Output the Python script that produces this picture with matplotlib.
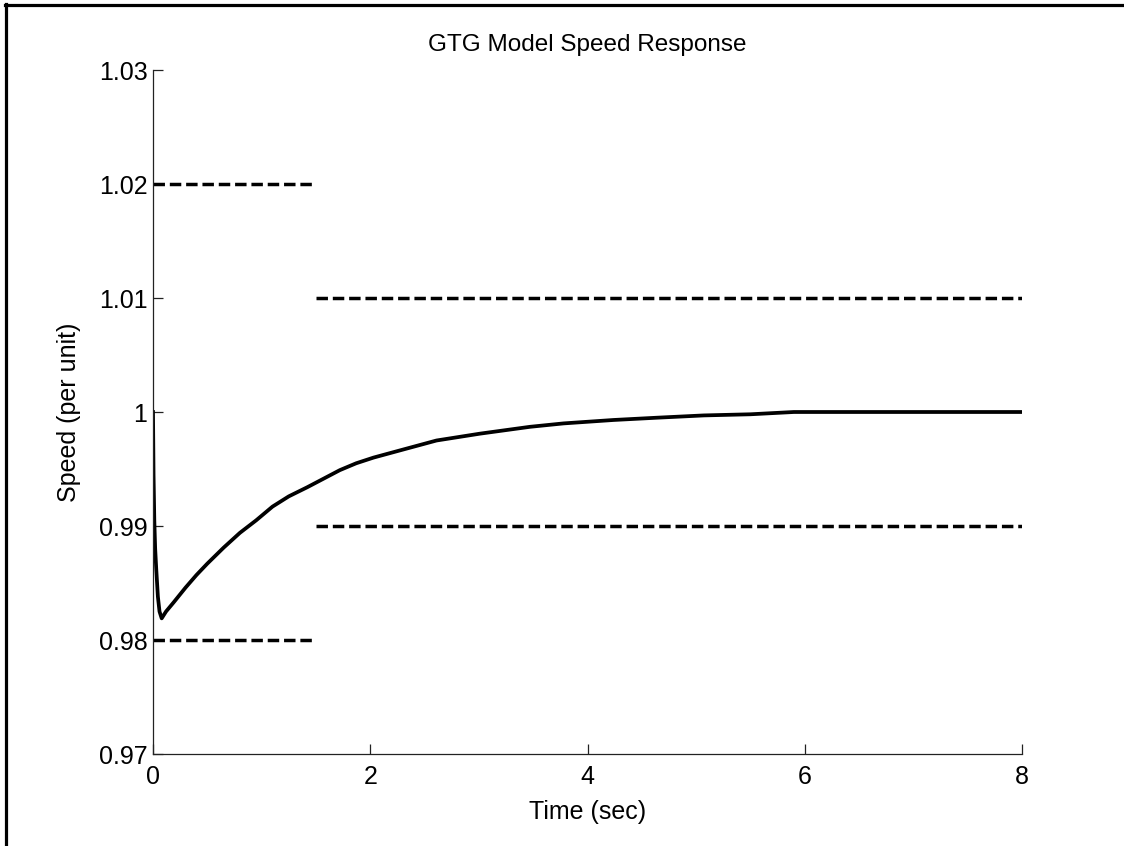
import matplotlib
matplotlib.use("Agg")
import matplotlib.pyplot as plt
from matplotlib.lines import Line2D

plt.rcParams["font.family"] = ["Liberation Sans", "DejaVu Sans"]
plt.rcParams["font.size"] = 18

# speed response (per unit) sampled along time (sec)
t = [0.0, 0.005, 0.012, 0.02, 0.03, 0.045, 0.06, 0.08, 0.12, 0.19, 0.3, 0.4,
     0.5, 0.65, 0.8, 0.95, 1.1, 1.25, 1.42, 1.58, 1.72, 1.87, 2.03, 2.3,
     2.61, 3.01, 3.47, 3.78, 4.24, 4.64, 5.07, 5.5, 5.9, 6.5, 7.2, 8.0]
speed = [1.0, 0.9945, 0.9905, 0.988, 0.9862, 0.9838, 0.9825, 0.9819, 0.9825,
         0.9833, 0.9846, 0.9857, 0.9867, 0.9881, 0.9894, 0.9905, 0.9917,
         0.9926, 0.9934, 0.9942, 0.9949, 0.9955, 0.9960, 0.9967, 0.9975,
         0.9981, 0.9987, 0.9990, 0.9993, 0.9995, 0.9997, 0.9998, 1.0, 1.0,
         1.0, 1.0]

# tolerance bands: wide band up to 1.5 s, narrow band after
band1_t = [0.0, 1.5]
band1_hi = 1.02
band1_lo = 0.98
band2_t = [1.5, 8.0]
band2_hi = 1.01
band2_lo = 0.99

yticks = [0.97, 0.98, 0.99, 1.0, 1.01, 1.02, 1.03]
ytick_labels = ["0.97", "0.98", "0.99", "1", "1.01", "1.02", "1.03"]
xticks = [0, 2, 4, 6, 8]

fig = plt.figure(figsize=(11.24, 8.46), dpi=100)
ax = fig.add_axes([153 / 1124, 1 - 754 / 846, 869 / 1124, 684 / 846])

dash = (0, (3.3, 1.4))
for tt, lo, hi in [(band1_t, band1_lo, band1_hi), (band2_t, band2_lo, band2_hi)]:
    ax.plot(tt, [hi, hi], color="black", lw=2.5, linestyle=dash)
    ax.plot(tt, [lo, lo], color="black", lw=2.5, linestyle=dash)

ax.plot(t, speed, color="black", lw=2.7, solid_joinstyle="round")

ax.set_xlim(0, 8)
ax.set_ylim(0.97, 1.03)
ax.set_xticks(xticks)
ax.set_xticklabels([str(x) for x in xticks])
ax.set_yticks(yticks)
ax.set_yticklabels(ytick_labels)

for side in ["top", "right"]:
    ax.spines[side].set_visible(False)
for side in ["left", "bottom"]:
    ax.spines[side].set_color("#222222")
    ax.spines[side].set_linewidth(0.9)

ax.tick_params(axis="both", direction="in", length=7, width=0.9, color="#222222")
ax.tick_params(axis="x", pad=8)
ax.tick_params(axis="y", pad=4)

ax.set_title("GTG Model Speed Response", fontsize=17.5, pad=14)
ax.set_xlabel("Time (sec)", labelpad=8)
ax.set_ylabel("Speed (per unit)", labelpad=13)

# page frame on top and left edges
fig.add_artist(Line2D([5 / 1124, 1.0], [1 - 5.5 / 846, 1 - 5.5 / 846],
                      transform=fig.transFigure, color="black", lw=2.3))
fig.add_artist(Line2D([6.5 / 1124, 6.5 / 1124], [0.0, 1 - 4 / 846],
                      transform=fig.transFigure, color="black", lw=2.3))

fig.savefig("out.png", dpi=100)
